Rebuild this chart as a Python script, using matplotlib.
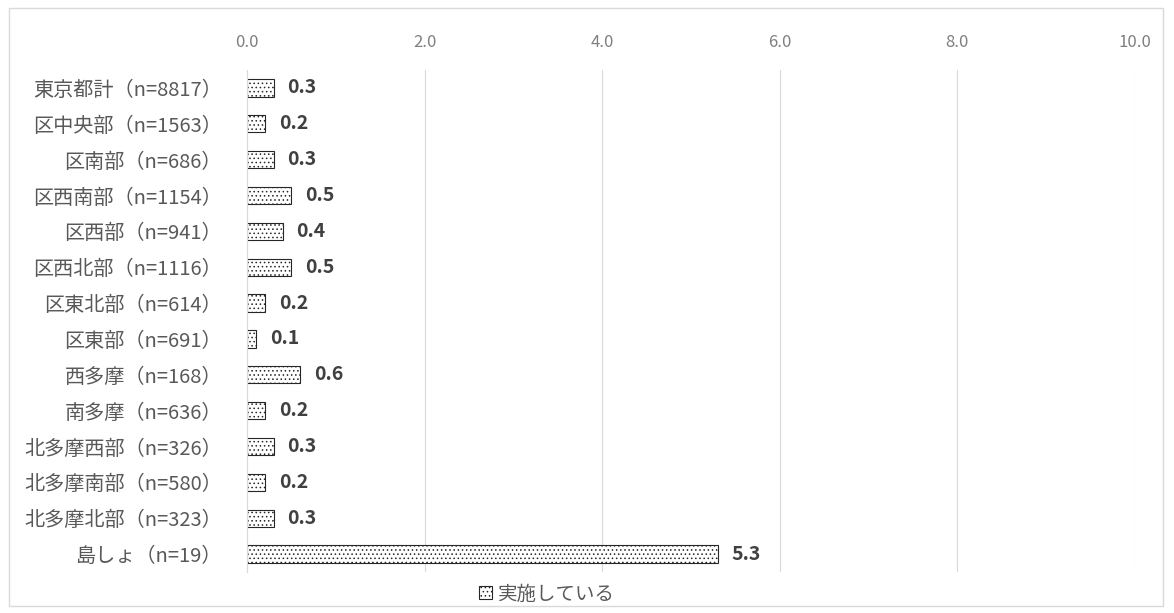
import matplotlib.pyplot as plt
from matplotlib.patches import Rectangle

plt.rcParams['font.family'] = ['Noto Sans CJK JP', 'DejaVu Sans']
plt.rcParams['hatch.linewidth'] = 0.6

# データ
categories = ['東京都計（n=8817）', '区中央部（n=1563）', '区南部（n=686）', '区西南部（n=1154）',
              '区西部（n=941）', '区西北部（n=1116）', '区東北部（n=614）', '区東部（n=691）',
              '西多摩（n=168）', '南多摩（n=636）', '北多摩西部（n=326）', '北多摩南部（n=580）',
              '北多摩北部（n=323）', '島しょ（n=19）']
values = [0.3, 0.2, 0.3, 0.5, 0.4, 0.5, 0.2, 0.1, 0.6, 0.2, 0.3, 0.2, 0.3, 5.3]
x_ticks = [0, 2, 4, 6, 8, 10]
legend_label = '実施している'

fig = plt.figure(figsize=(11.74, 6.13), dpi=100)
ax = fig.add_axes([0.2104, 0.0669, 0.7564, 0.8189])

y = range(len(categories))
ax.barh(y, values, height=0.48, color='white', edgecolor='#262626',
        linewidth=0.8, hatch='....', label=legend_label)

for i, v in enumerate(values):
    ax.annotate(f'{v:.1f}', xy=(v, i), xytext=(10, 0), textcoords='offset points',
                va='center', ha='left', fontsize=14, fontweight='bold', color='#404040')

ax.set_xlim(0, 10)
ax.set_ylim(len(categories) - 0.5, -0.5)
ax.set_xticks(x_ticks)
ax.set_xticklabels([f'{t:.1f}' for t in x_ticks], color='#7f7f7f', fontsize=12)
ax.xaxis.tick_top()
ax.tick_params(axis='x', length=0, pad=14)
ax.set_yticks(list(y))
ax.set_yticklabels(categories, color='#595959', fontsize=14.5)
ax.tick_params(axis='y', length=0, pad=18)
ax.grid(axis='x', color='#d9d9d9', linewidth=0.8)
ax.set_axisbelow(True)
for s in ['top', 'right', 'bottom']:
    ax.spines[s].set_visible(False)
ax.spines['left'].set_color('#d9d9d9')

ax.legend(loc='center', frameon=False, fontsize=14, labelcolor='#595959',
          handlelength=0.7, handleheight=0.7, handletextpad=0.3)
ax.legend_.set_bbox_to_anchor((0.466, 0.031), transform=fig.transFigure)

# 外枠
fig.patches.append(Rectangle((0.008, 0.012), 0.983, 0.975, transform=fig.transFigure,
                             fill=False, edgecolor='#d9d9d9', linewidth=1))

fig.savefig('out.png', dpi=100)
